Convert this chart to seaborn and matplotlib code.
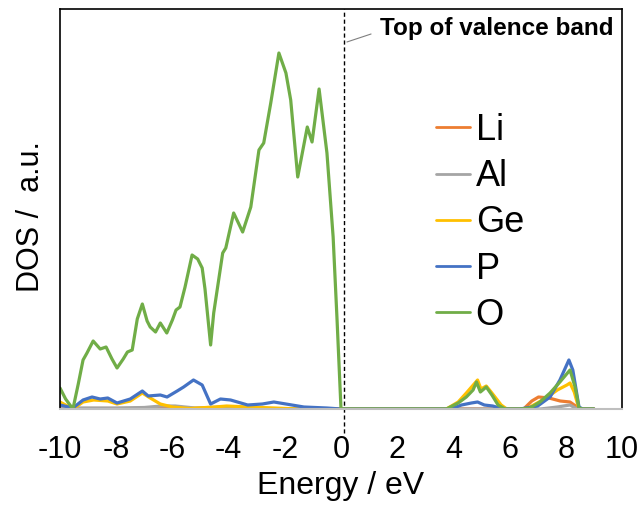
import matplotlib
matplotlib.use("Agg")
import matplotlib.pyplot as plt
import pandas as pd
import seaborn as sns

# Projected density of states per element (arbitrary units)
elements = ["Li", "Al", "Ge", "P", "O"]
colors = ["#ED7D31", "#A5A5A5", "#FFC000", "#4472C4", "#70AD47"]

li_energy = [-10.0, -9.3, -8.0, -6.0, -4.0, -2.0, 0.0, 6.5, 6.79, 7.03, 7.4, 7.8, 8.15, 8.4, 8.5, 9.0]
li_dos = [0, 0.5, 0.5, 0.8, 0.5, 0.3, 0, 0, 8, 12, 11, 8, 7, 2, 0, 0]

al_energy = [-10.0, -9.4, -8.0, -7.0, -6.4, -5.9, -5.2, -4.2, -3.5, -2.5, 0.0, 7.1, 7.7, 8.15, 8.4, 9.0]
al_dos = [0, 1, 1, 1.5, 3, 3, 1, 2, 1.5, 0.5, 0, 0, 2, 4, 0, 0]

ge_energy = [-10.0, -9.54, -9.18, -8.8, -8.3, -7.97, -7.5, -7.07, -6.79, -6.43, -6.0, -5.4,
             -4.5, -4.07, -3.3, -2.4, -1.5, 0.0, 3.75, 4.17, 4.46, 4.86, 4.98, 5.17, 5.37,
             5.7, 5.9, 6.6, 7.3, 7.7, 8.04, 8.15, 8.3, 8.47, 9.0]
ge_dos = [7, 0, 7, 9, 8, 5, 8, 16, 11, 5, 2, 0.5,
          2, 3, 2, 1, 0, 0, 0, 7, 16, 29, 20, 23, 16,
          4, 0, 0, 11, 19, 24, 26, 17, 0, 0]

p_energy = [-10.0, -9.54, -9.18, -8.86, -8.57, -8.3, -7.97, -7.5, -7.07, -6.86, -6.43, -6.19,
            -5.83, -5.6, -5.25, -4.94, -4.64, -4.29, -3.93, -3.32, -2.8, -2.39, -1.96, -1.32,
            -0.5, 0.0, 3.9, 4.29, 4.64, 4.86, 5.1, 5.4, 5.77, 6.37, 7.0, 7.44, 7.79, 8.11,
            8.25, 8.47, 8.6, 9.0]
p_dos = [4, 1, 9, 12, 10, 11, 6, 10, 18, 13, 14, 12,
         18, 22, 29, 24, 5, 10, 9, 4, 5, 7, 5, 2,
         1, 0, 0, 4, 6, 7, 4, 3, 0, 0, 3, 12, 29, 49,
         39, 2, 0, 0]

o_energy = [-10.0, -9.8, -9.54, -9.35, -9.18, -9.04, -8.82, -8.57, -8.36, -8.15, -7.97, -7.75,
            -7.6, -7.43, -7.25, -7.07, -6.9, -6.79, -6.6, -6.43, -6.2, -6.0, -5.87, -5.73,
            -5.55, -5.3, -5.1, -4.94, -4.84, -4.64, -4.53, -4.21, -4.1, -3.82, -3.5, -3.21,
            -2.92, -2.75, -2.5, -2.21, -1.96, -1.79, -1.54, -1.2, -1.03, -0.78, -0.5, -0.28,
            -0.14, 0.0, 3.75, 4.17, 4.46, 4.7, 4.82, 4.96, 5.17, 5.37, 5.59, 5.84, 6.37,
            6.73, 7.08, 7.44, 7.79, 8.15, 8.33, 8.47, 8.6, 9.0]
o_dos = [21, 10, 0, 25, 49, 56, 68, 60, 62, 50, 41, 50,
         57, 59, 90, 105, 88, 82, 77, 86, 76, 89, 99, 102,
         122, 154, 150, 141, 120, 64, 96, 156, 161, 196, 177, 202,
         259, 266, 306, 356, 336, 309, 232, 282, 267, 320, 256, 172,
         89, 0, 0, 6, 12, 19, 27, 17, 22, 14, 4, 0, 0,
         1, 7, 16, 27, 39, 22, 1, 0, 0]

x_ticks = [-10, -8, -6, -4, -2, 0, 2, 4, 6, 8, 10]
vbm_energy = 0.1

series = {
    "Li": (li_energy, li_dos),
    "Al": (al_energy, al_dos),
    "Ge": (ge_energy, ge_dos),
    "P": (p_energy, p_dos),
    "O": (o_energy, o_dos),
}
frames = [pd.DataFrame({"Energy": e, "DOS": d, "Element": name})
          for name, (e, d) in series.items()]
df = pd.concat(frames, ignore_index=True)

sns.set_style("white")
plt.rcParams["font.family"] = ["Liberation Sans", "DejaVu Sans"]
plt.rcParams["text.color"] = "black"
plt.rcParams["axes.labelcolor"] = "black"

fig = plt.figure(figsize=(6.41, 5.09), dpi=100)
ax = fig.add_axes([60 / 641, 100 / 509, 562 / 641, 400 / 509])

sns.lineplot(data=df, x="Energy", y="DOS", hue="Element", hue_order=elements,
             palette=colors, estimator=None, sort=False, linewidth=2.3, ax=ax)
for line in ax.get_lines():
    line.set_solid_joinstyle("round")

ax.set_xlim(-10, 10)
ax.set_ylim(0, 400)
ax.set_xticks(x_ticks)
ax.set_xticklabels([str(t) for t in x_ticks])
ax.set_yticks([])

ax.tick_params(axis="x", direction="in", length=6.5, width=1.2, color="#BFBFBF",
               labelsize=22, pad=19, labelcolor="black")

for side in ["left", "right", "top"]:
    ax.spines[side].set_color("black")
    ax.spines[side].set_linewidth(1.2)
ax.spines["bottom"].set_color("#BFBFBF")
ax.spines["bottom"].set_linewidth(1.5)

ax.set_xlabel("Energy / eV", fontsize=23, labelpad=4, color="black")
ax.set_ylabel("DOS /  a.u.", fontsize=22, labelpad=10, color="black")
ax.yaxis.label.set_y(0.48)

# valence band maximum marker
ax.axvline(vbm_energy, ymin=-0.06, ymax=1.0, color="black", lw=1.0,
           linestyle=(0, (3, 2)), clip_on=False, zorder=1)
ax.annotate("", xy=(0.21, 367), xytext=(1.07, 375),
            arrowprops=dict(arrowstyle="-", color="#7F7F7F", lw=0.8,
                            shrinkA=0, shrinkB=0),
            annotation_clip=False)
ax.text(1.39, 380, "Top of valence band", fontsize=17.5, fontweight="bold",
        ha="left", va="center", clip_on=False, color="black")

handles, labels = ax.get_legend_handles_labels()
leg = ax.legend(handles, labels, loc="center left", bbox_to_anchor=(0.669, 0.465),
                frameon=False, fontsize=26, handlelength=0.95, handletextpad=0.15,
                labelspacing=0.31, borderpad=0, borderaxespad=0)
for text in leg.get_texts():
    text.set_color("black")
for line in leg.get_lines():
    line.set_linewidth(2.0)

fig.savefig("out.png", dpi=100)
